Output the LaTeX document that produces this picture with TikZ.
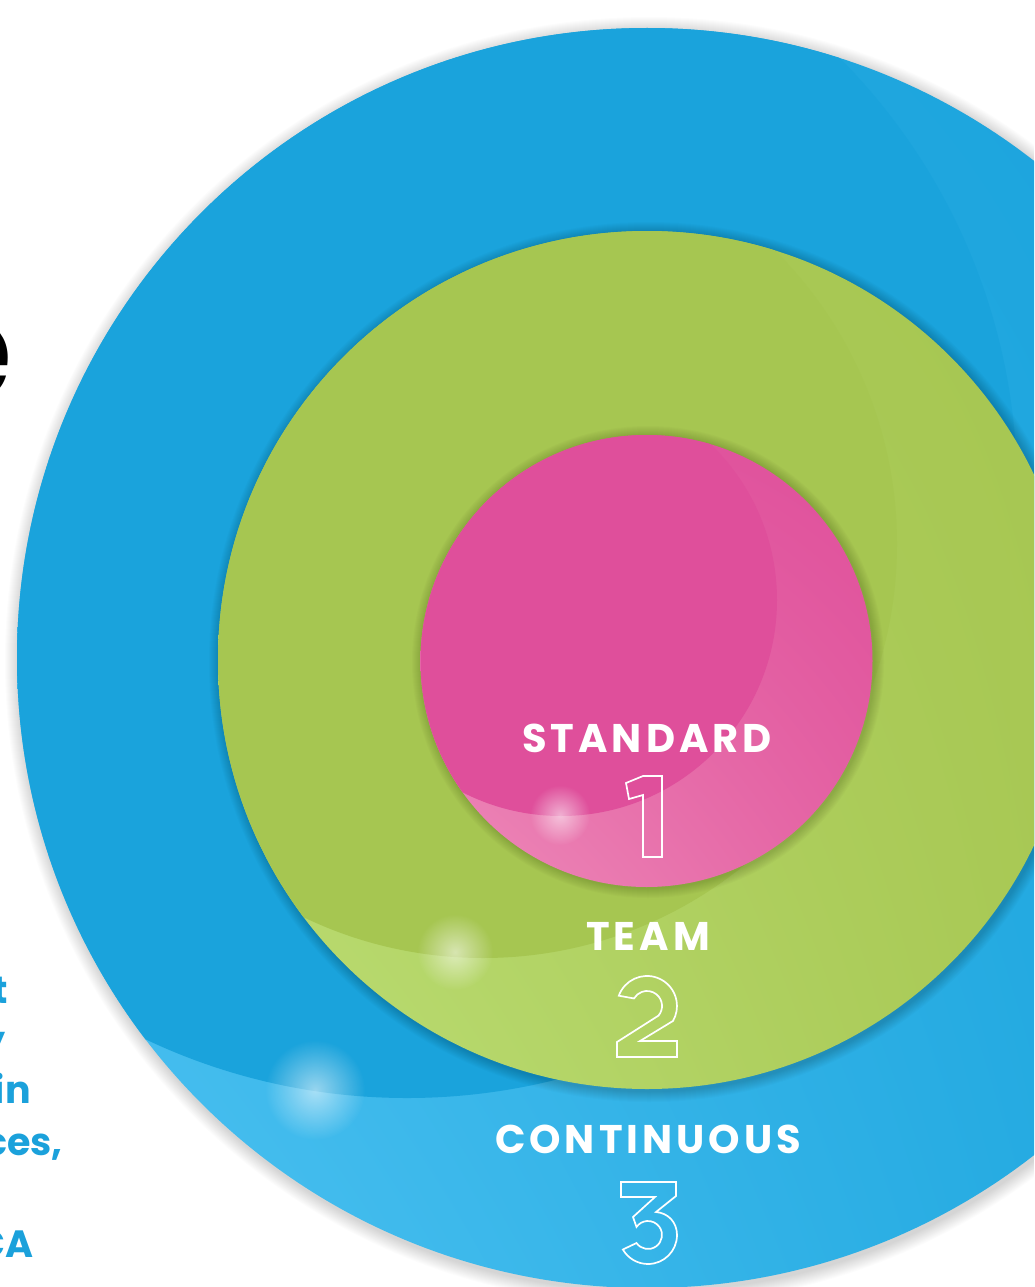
\documentclass[tikz,border=0pt]{standalone}
\usepackage{fontspec}
\setmainfont{Poppins}
\newfontfamily\labfont{Poppins}[LetterSpace=10]
\usetikzlibrary{fadings,shadings}
\definecolor{blueB}{HTML}{1AA3DC}
\definecolor{blueL}{HTML}{50C4F3}
\definecolor{blueM}{HTML}{27ABE2}
\definecolor{blueR}{HTML}{1DA6DE}
\definecolor{greenB}{HTML}{A6C651}
\definecolor{greenL}{HTML}{BCDE75}
\definecolor{greenM}{HTML}{ABCB58}
\definecolor{greenR}{HTML}{A8C854}
\definecolor{pinkB}{HTML}{DF4F9B}
\definecolor{pinkL}{HTML}{EE8CBA}
\definecolor{pinkM}{HTML}{E25AA0}
\definecolor{pinkR}{HTML}{E462A3}
\definecolor{textblue}{HTML}{1BA1DB}
\tikzfading[name=glowfade, inner color=transparent!0, outer color=transparent!100]
\tikzset{
  lab/.style={text=white, inner sep=0pt, font=\labfont\bfseries\fontsize{40}{40}\selectfont},
  digit/.style={draw=white, line width=1.7pt, line join=miter},
  frag/.style={text=textblue, inner sep=0pt, font=\bfseries\fontsize{38}{38}\selectfont},
  glow/.style={white, path fading=glowfade, fill opacity=0.55},
}
\begin{document}
\begin{tikzpicture}[x=1pt,y=-1pt]
\useasboundingbox (0,0) rectangle (1034,1287);
\clip (0,0) rectangle (1034,1287);
\fill[white] (0,0) rectangle (1034,1287);
% left text fragments
\node[anchor=base east, inner sep=0pt, font=\fontsize{145}{145}\selectfont] (e) at (15,400) {e};
\node[frag, anchor=base east] (f1) at (8,1003) {t};
\node[frag, anchor=base east] (f2) at (6,1053) {y};
\node[frag, anchor=base east] (f3) at (31,1103) {in};
\node[frag, anchor=base east] (f4) at (63,1155) {ces,};
\node[frag, anchor=base east] (f5) at (34,1257) {CA};
% outer shadow
\foreach \i in {1,...,14} \fill[black, opacity=0.012] (649,661) circle ({630+\i});
% blue circle
\begin{scope}
  \clip (647,658) circle (630);
  \shade[lower left=blueL, lower right=blueR, upper left=blueM, upper right=blueB] (17,28) rectangle (1277,1288);
  \fill[blueB] (407,488) circle (610);
  \fill[glow] (315,1090) circle (50);
  \foreach \i in {1,...,11} \fill[black, opacity=0.016] (649,662) circle ({429+\i});
\end{scope}
% green circle
\begin{scope}
  \clip (647,660) circle (429);
  \shade[lower left=greenL, lower right=greenR, upper left=greenM, upper right=greenB] (218,231) rectangle (1076,1089);
  \fill[greenB] (483,544) circle (414);
  \fill[glow] (455,952) circle (38);
  \foreach \i in {1,...,10} \fill[black, opacity=0.016] (648,662) circle ({226+\i});
\end{scope}
% pink circle
\begin{scope}
  \clip (646.5,661) circle (226);
  \shade[lower left=pinkL, lower right=pinkR, upper left=pinkM, upper right=pinkB] (420,435) rectangle (873,887);
  \fill[pinkB] (561,600) circle (216);
  \fill[glow] (560,815) circle (30);
\end{scope}
% labels
\node[lab, anchor=base] (std) at (647,752) {STANDARD};
\node[lab, anchor=base] (team) at (648,950) {TEAM};
\node[lab, anchor=base] (cont) at (648,1153) {CONTINUOUS};
% digit 1
\draw[digit] (626,783) -- (643,776) -- (662,776) -- (662,857) -- (643,857) -- (643,795) -- (629,799) -- cycle;
% digit 2
\draw[digit] (618.8,995.7) arc[start angle=-160, end angle=30, radius=30]
  -- (640,1041) -- (677,1041) -- (677,1057) -- (617,1057) -- (617,1042)
  -- (658.5,1015.6) arc[start angle=40, end angle=-150, radius=15] -- cycle;
% digit 3
\draw[digit] (621,1182) -- (676,1182) -- (676,1196) -- (656,1212)
  .. controls (668,1213) and (677,1222) .. (677,1235)
  arc[start angle=0, end angle=150, radius=29]
  -- (636.5,1243) arc[start angle=145, end angle=-145, radius=14]
  -- (633,1217) -- (655,1197) -- (621,1197) -- cycle;
\end{tikzpicture}
\end{document}
